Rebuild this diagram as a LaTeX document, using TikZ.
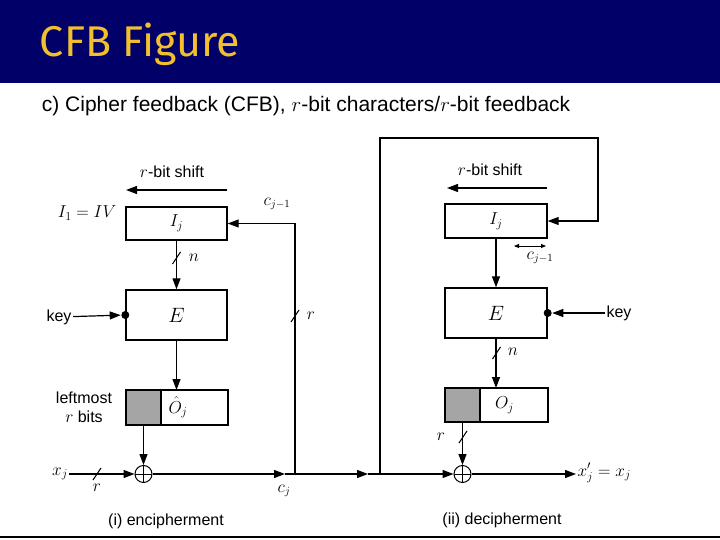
\documentclass[tikz,border=0pt]{standalone}
\usepackage{fontspec}
\setmainfont{Liberation Sans}
\newfontfamily\titlefont{Fira Sans}
\usetikzlibrary{arrows.meta}
\definecolor{Navy}{RGB}{0,0,104}
\definecolor{TitleYellow}{RGB}{242,192,44}
\definecolor{Grain}{RGB}{165,165,165}
\newcommand\labfont{\fontsize{16}{19}\selectfont}
\newcommand\mathlab{\fontsize{18}{21}\selectfont}

\begin{document}
\begin{tikzpicture}[x=1pt,y=-1pt,line width=1.2pt,
  >={Triangle[length=11pt,width=8pt]},
  box/.style={draw,line width=1.4pt,minimum width=101pt,minimum height=33pt,inner sep=0pt,font=\mathlab},
  grainbox/.style={draw,line width=1.4pt,fill=Grain,minimum width=35pt,minimum height=34pt,inner sep=0pt,outer sep=0pt,anchor=east},
  xor/.style={circle,draw,line width=1pt,minimum size=17pt,inner sep=0pt,
    path picture={\draw[line width=1pt] (path picture bounding box.north) -- (path picture bounding box.south)
      (path picture bounding box.west) -- (path picture bounding box.east);}},
  keydot/.style={circle,fill,minimum size=8pt,inner sep=0pt},
  bitmark/.style={line width=1pt},
  lab/.style={font=\labfont,inner sep=1pt},
  mlab/.style={font=\mathlab,inner sep=1pt}]
\useasboundingbox (0,0) rectangle (720,540);
\fill[Navy] (0,0) rectangle (720,83);
\node[anchor=west,text=TitleYellow,font=\titlefont\fontsize{43}{46}\selectfont] (title) at (36,44) {CFB Figure};
\draw[line width=1.5pt] (0,537) -- (720,537);
\node[anchor=west,font=\fontsize{21}{24}\selectfont] (caption) at (38,106) {c) Cipher feedback (CFB), $r$-bit characters/$r$-bit feedback};

% (i) encipherment
\node[box] (IjL) at (176.5,223.5) {$I_j$};
\node[box,minimum height=50pt] (EL) at (176.5,315) {\fontsize{20}{22}\selectfont$E$};
\node[box,minimum width=67pt,minimum height=35pt,outer sep=0pt] (OL) at (194.5,407.5) {\makebox[52pt][l]{$\hat{O}_j$}};
\node[grainbox,minimum height=35pt] (sL) at (OL.west) {};
\coordinate (rowL) at (0,474);
\node[xor] (xorL) at (sL.south |- rowL) {};

\node[lab] (shiftL) at (172,172) {$r$-bit shift};
\coordinate (shLa) at (227,190);
\coordinate (shLb) at (126,190);
\draw[->] (shLa) -- (shLb);
\node[mlab] (ivL) at (87,213) {$I_1 = IV$};
\node[mlab,font=\labfont] (cjmL) at (277,204) {$c_{j-1}$};

\node[lab] (keyL) at (59,317) {key};
\node[keydot] (dotL) at (EL.west) {};
\draw[->] (keyL) -- (dotL);

\draw[->] (IjL) -- (EL);
\draw[bitmark] (176.5,258) +(-4,6) -- +(4,-6);
\node[mlab] (nL) at (194,258) {$n$};
\draw[->] (EL.south) -- (EL.south |- OL.north);
\node[lab,align=center] (leftmost) at (84,407) {leftmost\\$r$ bits};
\draw[->] (sL.south) -- (xorL.north);

\node[mlab] (xjL) at (60,474) {$x_j$};
\draw[->] (xjL) -- (xorL);
\draw[bitmark] (97,474) +(-4,6) -- +(4,-6);
\node[mlab,font=\labfont] (rxL) at (97,488) {$r$};

\coordinate (jL) at (295,474);
\coordinate (cjA) at (285,474);
\draw[->] (xorL) -- (cjA);
\node[mlab,font=\labfont] (cjL) at (284,491) {$c_j$};
\draw[->] (jL) |- (IjL.east);
\draw (cjA) -- (jL);
\draw[bitmark] (295,316) +(-4,6) -- +(4,-6);
\node[mlab] (rfL) at (311,316) {$r$};
\node[lab] (encL) at (166,521) {(i) encipherment};

% (ii) decipherment
\node[box,minimum width=102pt,minimum height=34pt] (IjR) at (496,221) {$I_j$};
\node[box,minimum width=102pt,minimum height=50pt] (ER) at (496,313) {\fontsize{20}{22}\selectfont$E$};
\node[box,minimum width=68pt,minimum height=34pt,outer sep=0pt] (OR) at (514,405) {\makebox[38pt][l]{$O_j$}};
\node[grainbox] (sR) at (OR.west) {};
\coordinate (rowR) at (0,474);
\node[xor] (xorR) at (sR.south |- rowR) {};

\node[lab] (shiftR) at (490,170) {$r$-bit shift};
\coordinate (shRa) at (547,188);
\coordinate (shRb) at (447,188);
\draw[->] (shRa) -- (shRb);
\coordinate (cwa) at (514,246);
\coordinate (cwb) at (546,246);
\draw[{Triangle[length=5pt,width=4pt]}-{Triangle[length=5pt,width=4pt]},line width=0.8pt] (cwa) -- (cwb);
\node[mlab,font=\labfont] (cjmR) at (540,258) {$c_{j-1}$};

\node[lab] (keyR) at (619,313) {key};
\node[keydot] (dotR) at (ER.east) {};
\draw[->] (keyR) -- (dotR);

\draw[->] (IjR) -- (ER);
\draw[->] (ER.south) -- (ER.south |- OR.north);
\draw[bitmark] (496.5,353) +(-4,6) -- +(4,-6);
\node[mlab] (nR) at (513,352) {$n$};
\draw[->] (sR.south) -- (xorR.north);
\draw[bitmark] (463,437) +(-4,6) -- +(4,-6);
\node[mlab] (rR) at (441,437) {$r$};

\coordinate (cjB) at (368,474);
\coordinate (jR) at (380,474);
\coordinate (topL) at (380,138);
\coordinate (topR) at (598,138);
\draw[->] (jL) -- (cjB);
\draw (cjB) -- (jR);
\draw[->] (jR) -- (xorR.west);
\draw[->] (jR) -- (topL) -- (topR) |- (IjR.east);

\node[mlab,anchor=west] (outR) at (576,473) {$x'_j = x_j$};
\draw[->] (xorR.east) -- (xorR.east -| outR.west);
\node[lab] (decR) at (502,520) {(ii) decipherment};
\end{tikzpicture}
\end{document}
